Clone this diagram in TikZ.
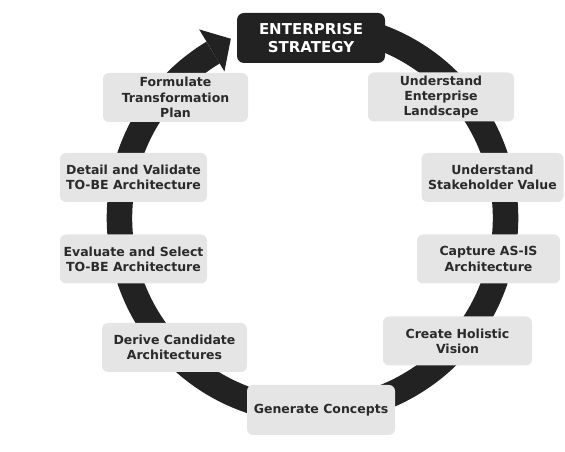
\documentclass[tikz,border=0pt]{standalone}
\usepackage{fontspec}
\setmainfont{DejaVu Sans}
\definecolor{ringcol}{HTML}{222222}
\definecolor{boxgray}{HTML}{E5E5E5}
\definecolor{textgray}{HTML}{2A2A2A}
\begin{document}
\begin{tikzpicture}[x=1pt,y=1pt,
  stage/.style={rounded corners=6pt, fill=boxgray, text=textgray,
    font=\bfseries\fontsize{12.5}{15.2}\selectfont, align=center,
    minimum width=146pt, minimum height=49pt, inner sep=0pt},
  headbox/.style={rounded corners=7pt, fill=ringcol, text=white,
    font=\bfseries\fontsize{15}{18.5}\selectfont, align=center,
    minimum width=148pt, minimum height=50pt, inner sep=0pt}]
\useasboundingbox (0,0) rectangle (565,452);
\coordinate (c) at (312.5,234);
% ring with arrow
\draw[ringcol, line width=25.5pt] ([shift={(72:193)}]c) arc[start angle=72, end angle=-239, radius=193];
\fill[ringcol] ([shift={(121:220)}]c) -- ([shift={(114.5:197)}]c) -- ([shift={(121:171)}]c) -- cycle;
% boxes
\node[headbox] (es) at (311,414) {ENTERPRISE\\STRATEGY};
\node[stage] (uel) at (441,355) {Understand\\Enterprise\\Landscape};
\node[stage, minimum width=142pt] (usv) at (492.5,274.5) {Understand\\Stakeholder Value};
\node[stage, minimum width=143pt] (caa) at (488.5,193) {Capture AS-IS\\Architecture};
\node[stage, minimum width=149pt] (chv) at (457.5,111) {Create Holistic\\Vision};
\node[stage, minimum width=148pt, minimum height=50pt] (gc) at (321,42) {Generate Concepts};
\node[stage, minimum width=145pt] (dca) at (174.5,104.5) {Derive Candidate\\Architectures};
\node[stage, minimum width=147pt] (est) at (133.5,193) {Evaluate and Select\\TO-BE Architecture};
\node[stage, minimum width=147pt] (dvt) at (133.5,274.5) {Detail and Validate\\TO-BE Architecture};
\node[stage, minimum width=145pt] (ftp) at (175.5,354.5) {Formulate\\Transformation\\Plan};
\end{tikzpicture}
\end{document}
